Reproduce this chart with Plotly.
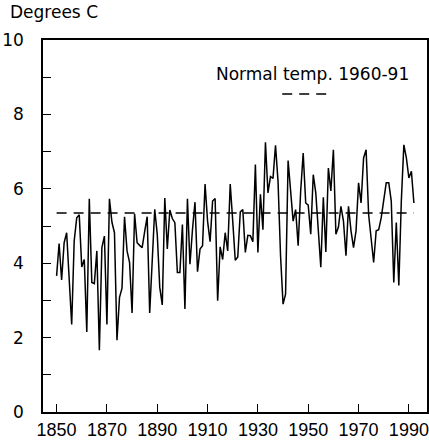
import plotly.graph_objects as go

years = list(range(1850, 1993))
temps = [
    3.66, 4.53, 3.55, 4.55, 4.82, 3.40, 2.35, 4.60, 5.22, 5.30,  # 1850-59
    3.90, 4.10, 2.15, 5.73, 3.48, 3.45, 4.33, 1.66, 4.42, 4.73,  # 1860-69
    2.35, 5.73, 5.10, 4.82, 1.93, 3.08, 3.33, 5.25, 4.33, 4.02,  # 1870-79
    2.66, 5.33, 4.55, 4.48, 4.42, 4.85, 5.25, 2.66, 4.20, 5.45,  # 1880-89
    4.78, 3.35, 2.88, 5.75, 4.38, 5.43, 5.20, 5.09, 3.75, 3.75,  # 1890-99
    5.04, 2.77, 5.73, 3.97, 4.90, 5.64, 3.77, 4.38, 4.47, 6.13,  # 1900-09
    5.13, 4.58, 5.67, 5.74, 2.99, 4.44, 4.10, 4.82, 4.33, 6.13,  # 1910-19
    5.13, 4.08, 4.17, 5.38, 5.44, 4.29, 4.75, 4.74, 4.58, 6.65,  # 1920-29
    4.29, 5.85, 4.90, 7.25, 5.89, 6.33, 6.28, 7.17, 6.20, 4.20,  # 1930-39
    2.90, 3.17, 6.76, 6.03, 5.13, 5.44, 4.47, 5.94, 6.96, 5.62,  # 1940-49
    5.56, 4.78, 6.38, 5.89, 4.87, 3.89, 5.77, 4.30, 6.56, 5.94,  # 1950-59
    7.05, 4.78, 4.97, 5.53, 5.13, 4.20, 5.53, 4.87, 4.42, 4.87,  # 1960-69
    6.16, 5.62, 6.83, 7.05, 5.31, 4.60, 4.02, 4.87, 4.90, 5.22,  # 1970-79
    5.70, 6.16, 6.16, 5.67, 3.48, 5.09, 3.40, 5.67, 7.18, 6.83,  # 1980-89
    6.29, 6.47, 5.62,                                            # 1990-92
]
normal_years = [1850, 1992]
normal_value = 5.35
normal_label = "Normal temp. 1960-91"
y_title = "Degrees C"
x_ticks = [1850, 1870, 1890, 1910, 1930, 1950, 1970, 1990]
y_ticks = [0, 2, 4, 6, 8, 10]

FONT = "DejaVu Sans"
XFONT = "Liberation Sans"

fig = go.Figure()
fig.add_trace(go.Scatter(
    x=normal_years, y=[normal_value] * len(normal_years), mode="lines",
    line=dict(color="black", width=1.5, dash="10px,7px"), hoverinfo="skip",
))
fig.add_trace(go.Scatter(
    x=years, y=temps, mode="lines",
    line=dict(color="black", width=1.5),
))

fig.update_layout(
    width=429, height=440,
    margin=dict(l=43, r=2, t=40, b=28),
    paper_bgcolor="white", plot_bgcolor="white",
    showlegend=False,
    font=dict(family=FONT, color="black"),
    xaxis=dict(
        range=[1844.6, 1997.2], tickvals=x_ticks, ticks="inside", ticklen=8,
        tickwidth=1.2, tickcolor="black", showgrid=False, zeroline=False,
        showline=True, linecolor="black", linewidth=1.5, mirror=True,
        tickfont=dict(size=18, family=XFONT, color="black"), automargin=False,
        ticklabelstandoff=1, ticklabeloverflow="allow",
    ),
    yaxis=dict(
        range=[0, 10], tickvals=y_ticks, ticks="inside", ticklen=8,
        tickwidth=1.2, tickcolor="black", showgrid=False, zeroline=False,
        showline=True, linecolor="black", linewidth=1.5, mirror=True,
        minor=dict(dtick=1, ticks="inside", ticklen=8, tickwidth=1.2, tickcolor="black", showgrid=False),
        tickfont=dict(size=17, family=FONT, color="black"), automargin=False,
        ticklabelstandoff=14, ticklabeloverflow="allow",
    ),
    annotations=[
        dict(text=y_title, xref="paper", yref="paper", x=-0.091, y=1.075,
             xanchor="left", yanchor="middle", showarrow=False,
             font=dict(size=17, family=FONT, color="black")),
        dict(text=normal_label, xref="paper", yref="paper", x=0.703, y=0.909,
             xanchor="center", yanchor="middle", showarrow=False,
             font=dict(size=17, family=FONT, color="black")),
    ],
    shapes=[
        dict(type="line", xref="paper", yref="paper", x0=0.623, x1=0.745,
             y0=0.855, y1=0.855, line=dict(color="black", width=1.5, dash="10px,7px")),
    ],
)

fig.write_html("out.html")
